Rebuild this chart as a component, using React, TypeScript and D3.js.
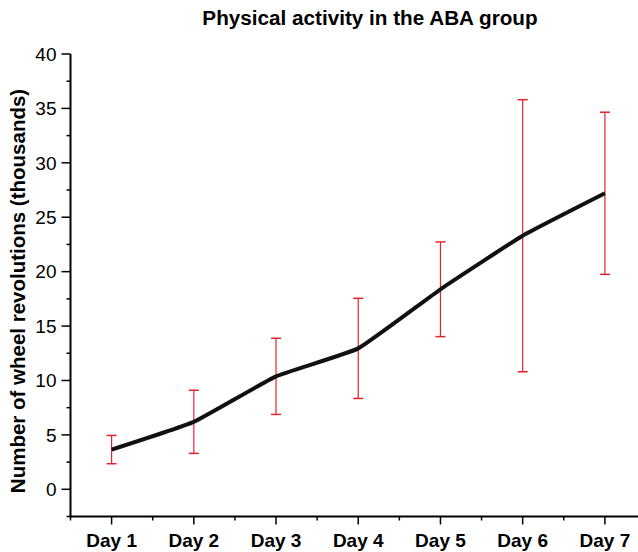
import * as d3 from 'd3'
import * as React from 'react'

//------------------------------data------------------------------
const DAYS = ['Day 1', 'Day 2', 'Day 3', 'Day 4', 'Day 5', 'Day 6', 'Day 7']
const MEANS = [3.65, 6.2, 10.38, 12.95, 18.38, 23.3, 27.2]
const SD = [1.3, 2.9, 3.5, 4.6, 4.35, 12.5, 7.45]
const Y_TICKS = [0, 5, 10, 15, 20, 25, 30, 35, 40]

const WIDTH = 638
const HEIGHT = 552
const FONT = '"Liberation Sans", Arial, sans-serif'
const RED = '#e3262c'

//------------------------------drawChart------------------------------
const drawChart = (svgRef: React.RefObject<SVGSVGElement>) => {
  const svg = d3.select(svgRef.current)
  svg.selectAll('*').remove()

  const x = d3.scaleLinear().domain([0.5, 7.5]).range([70.5, 646])
  const y = d3.scaleLinear().domain([-2.5, 40]).range([516.5, 54])

  // title
  svg
    .append('text')
    .attr('x', 370)
    .attr('y', 25)
    .attr('text-anchor', 'middle')
    .attr('font-family', FONT)
    .attr('font-weight', 'bold')
    .attr('font-size', 20.7)
    .text('Physical activity in the ABA group')

  // y axis
  const yAxis = svg.append('g').attr('transform', `translate(${x(0.5)},0)`)
  yAxis
    .append('line')
    .attr('y1', y(40))
    .attr('y2', y(-2.5))
    .attr('stroke', '#000')
    .attr('stroke-width', 2)
  const yMinor = d3.range(-2.5, 40, 5)
  yAxis
    .selectAll('.minor')
    .data(yMinor)
    .join('line')
    .attr('x1', -4)
    .attr('x2', 0)
    .attr('y1', d => y(d))
    .attr('y2', d => y(d))
    .attr('stroke', '#000')
    .attr('stroke-width', 1.5)
  yAxis
    .selectAll('.major')
    .data(Y_TICKS)
    .join('line')
    .attr('x1', -9)
    .attr('x2', 0)
    .attr('y1', d => y(d))
    .attr('y2', d => y(d))
    .attr('stroke', '#000')
    .attr('stroke-width', 1.5)
  yAxis
    .selectAll('text')
    .data(Y_TICKS)
    .join('text')
    .attr('x', -14)
    .attr('y', d => y(d))
    .attr('dy', '0.36em')
    .attr('text-anchor', 'end')
    .attr('font-family', FONT)
    .attr('font-size', 19)
    .text(d => d)

  // x axis
  const xAxis = svg.append('g').attr('transform', `translate(0,${y(-2.5)})`)
  xAxis
    .append('line')
    .attr('x1', x(0.5) - 1)
    .attr('x2', WIDTH)
    .attr('stroke', '#000')
    .attr('stroke-width', 2)
  xAxis
    .selectAll('.minor')
    .data(d3.range(0.5, 7.6, 1))
    .join('line')
    .attr('x1', d => x(d))
    .attr('x2', d => x(d))
    .attr('y1', 0)
    .attr('y2', 4)
    .attr('stroke', '#000')
    .attr('stroke-width', 1.5)
  xAxis
    .selectAll('.major')
    .data(DAYS)
    .join('line')
    .attr('x1', (_, i) => x(i + 1))
    .attr('x2', (_, i) => x(i + 1))
    .attr('y1', 0)
    .attr('y2', 8)
    .attr('stroke', '#000')
    .attr('stroke-width', 1.5)
  xAxis
    .selectAll('text')
    .data(DAYS)
    .join('text')
    .attr('x', (_, i) => x(i + 1))
    .attr('y', 30)
    .attr('text-anchor', 'middle')
    .attr('font-family', FONT)
    .attr('font-weight', 'bold')
    .attr('font-size', 19)
    .text(d => d)

  // y label
  svg
    .append('text')
    .attr('transform', `translate(25,291) rotate(-90)`)
    .attr('text-anchor', 'middle')
    .attr('font-family', FONT)
    .attr('font-weight', 'bold')
    .attr('font-size', 20.5)
    .text('Number of wheel revolutions (thousands)')

  // error bars
  const bars = svg.append('g')
  MEANS.forEach((m, i) => {
    const cx = x(i + 1)
    const top = y(m + SD[i])
    const bottom = y(m - SD[i])
    bars
      .append('line')
      .attr('x1', cx)
      .attr('x2', cx)
      .attr('y1', top)
      .attr('y2', bottom)
      .attr('stroke', RED)
      .attr('stroke-width', 1.2)
    ;[top, bottom].forEach(v => {
      bars
        .append('line')
        .attr('x1', cx - 5)
        .attr('x2', cx + 5)
        .attr('y1', v)
        .attr('y2', v)
        .attr('stroke', RED)
        .attr('stroke-width', 1.5)
    })
  })

  // mean line
  const line = d3
    .line<number>()
    .x((_, i) => x(i + 1))
    .y(d => y(d))
    .curve(d3.curveCardinal.tension(0.65))
  svg
    .append('path')
    .datum(MEANS)
    .attr('d', line)
    .attr('fill', 'none')
    .attr('stroke', '#111')
    .attr('stroke-width', 4)
}

//------------------------------Component------------------------------
export default function App() {
  const chartSvg = React.useRef<SVGSVGElement>(null)

  React.useEffect(() => {
    drawChart(chartSvg)
  }, [])

  return (
    <svg
      ref={chartSvg}
      width={WIDTH}
      height={HEIGHT}
      style={{ position: 'absolute', left: 0, top: 0, background: '#fff' }}
    />
  )
}
